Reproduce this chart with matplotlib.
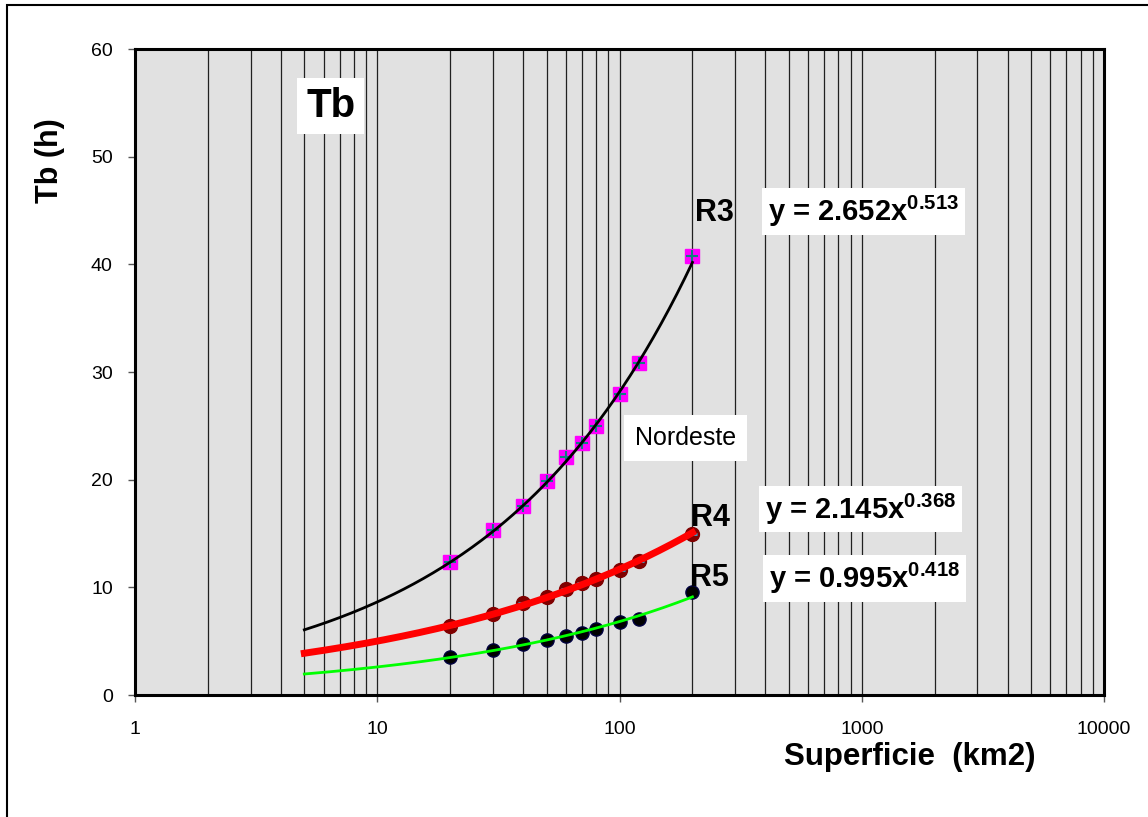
import numpy as np
import matplotlib
matplotlib.use("Agg")
from matplotlib import pyplot as plt
from matplotlib.ticker import LogLocator, NullFormatter, FixedLocator, FixedFormatter
from matplotlib.patches import Rectangle

plt.rcParams['font.family'] = ['Liberation Sans', 'DejaVu Sans']
plt.rcParams['mathtext.fontset'] = 'custom'
plt.rcParams['mathtext.rm'] = 'Liberation Sans'
plt.rcParams['mathtext.bf'] = 'Liberation Sans:bold'
plt.rcParams['mathtext.default'] = 'bf'

# Basin area (km2) and base time (h) per region
area = [20, 30, 40, 50, 60, 70, 80, 100, 120, 200]
tb_r3 = [12.35, 15.3, 17.6, 19.9, 22.1, 23.4, 25.0, 28.0, 30.8, 40.8]
tb_r4 = [6.4, 7.5, 8.5, 9.1, 9.8, 10.4, 10.8, 11.6, 12.4, 15.0]
tb_r5 = [3.5, 4.2, 4.7, 5.1, 5.5, 5.8, 6.1, 6.8, 7.1, 9.6]

# Power-law fits y = a * x^b
fit_r3 = (2.652, 0.513)
fit_r4 = (2.145, 0.368)
fit_r5 = (0.995, 0.418)
fit_range = (5, 200)

x_ticks = [1, 10, 100, 1000, 10000]
y_ticks = [0, 10, 20, 30, 40, 50, 60]


def power_curve(fit):
    xs = np.logspace(np.log10(fit_range[0]), np.log10(fit_range[1]), 200)
    return xs, fit[0] * xs ** fit[1]


fig = plt.figure(figsize=(11.48, 8.17), dpi=100)
ax = fig.add_axes([135 / 1148, 1 - 695 / 817, 969 / 1148, 646 / 817])
ax.set_facecolor('#E1E1E1')

ax.set_xscale('log')
ax.set_xlim(1, 10000)
ax.set_ylim(0, 60)

# vertical grid on every decade subdivision
ax.xaxis.set_major_locator(FixedLocator(x_ticks))
ax.xaxis.set_major_formatter(FixedFormatter([str(v) for v in x_ticks]))
ax.xaxis.set_minor_locator(LogLocator(base=10, subs=np.arange(2, 10)))
ax.xaxis.set_minor_formatter(NullFormatter())
ax.grid(True, which='both', axis='x', color='#202020', lw=0.9)
ax.set_axisbelow(True)
ax.set_yticks(y_ticks)

ax.tick_params(axis='both', which='major', direction='out', length=5, width=1,
               color='#555555', labelsize=14)
ax.tick_params(axis='y', which='major', pad=11)
ax.tick_params(axis='x', which='major', pad=14)
ax.tick_params(axis='x', which='minor', length=0)
for sp in ax.spines.values():
    sp.set_linewidth(2.2)
    sp.set_color('black')

# markers first, fitted lines drawn over them
ax.plot(area, tb_r3, 's', ms=10, color='#FF00FF', zorder=3)
ax.plot(area, tb_r3, '+', ms=9, mew=1.5, color='#108080', zorder=3)
ax.plot(area, tb_r4, 'o', ms=10, color='#800000', zorder=3)
ax.plot(area, tb_r4, '_', ms=7, mew=2, color='#20B0E0', zorder=3)
ax.plot(area, tb_r5, 'o', ms=9.5, color='black', mec='#000040', zorder=3)

xs, ys = power_curve(fit_r3)
ax.plot(xs, ys, color='black', lw=2, zorder=4)
xs, ys = power_curve(fit_r4)
ax.plot(xs, ys, color='#FF0000', lw=5, zorder=4)
xs, ys = power_curve(fit_r5)
ax.plot(xs, ys, color='#00FF00', lw=2, zorder=4)

# region labels next to the last point
ax.text(204, 44.8, 'R3', fontsize=22, fontweight='bold', va='center', ha='left', zorder=5)
ax.text(198, 16.4, 'R4', fontsize=22, fontweight='bold', va='center', ha='left', zorder=5)
ax.text(196, 10.9, 'R5', fontsize=22, fontweight='bold', va='center', ha='left', zorder=5)

box = dict(facecolor='white', edgecolor='none', boxstyle='square,pad=0.2')
for fit, xf, yf in [(fit_r3, 0.752, 0.749), (fit_r4, 0.749, 0.288), (fit_r5, 0.753, 0.181)]:
    label = 'y = %.3fx$^{%.3f}$' % (fit[0], fit[1])
    ax.text(xf, yf, label, transform=ax.transAxes, fontsize=21, fontweight='bold',
            ha='center', va='center', bbox=box, zorder=6)

ax.text(0.202, 0.912, 'Tb', transform=ax.transAxes, fontsize=29, fontweight='bold',
        ha='center', va='center', bbox=dict(facecolor='white', edgecolor='none',
                                            boxstyle='square,pad=0.22'), zorder=6)
ax.text(0.568, 0.398, 'Nordeste', transform=ax.transAxes, fontsize=18,
        ha='center', va='center', bbox=dict(facecolor='white', edgecolor='none',
                                            boxstyle='square,pad=0.45'), zorder=6)

fig.text(50 / 1148, 1 - 161 / 817, 'Tb (h)', rotation=90, fontsize=22,
         fontweight='bold', ha='center', va='center')
fig.text(910 / 1148, 1 - 757 / 817, 'Superficie  (km2)', fontsize=22.5,
         fontweight='bold', ha='center', va='center')

# chart frame
fig.patches.append(Rectangle((7 / 1148, -0.1), 2, 1.1 - 5 / 817, transform=fig.transFigure,
                             fill=False, lw=1.5, edgecolor='black'))

fig.savefig('out.png', dpi=100)
